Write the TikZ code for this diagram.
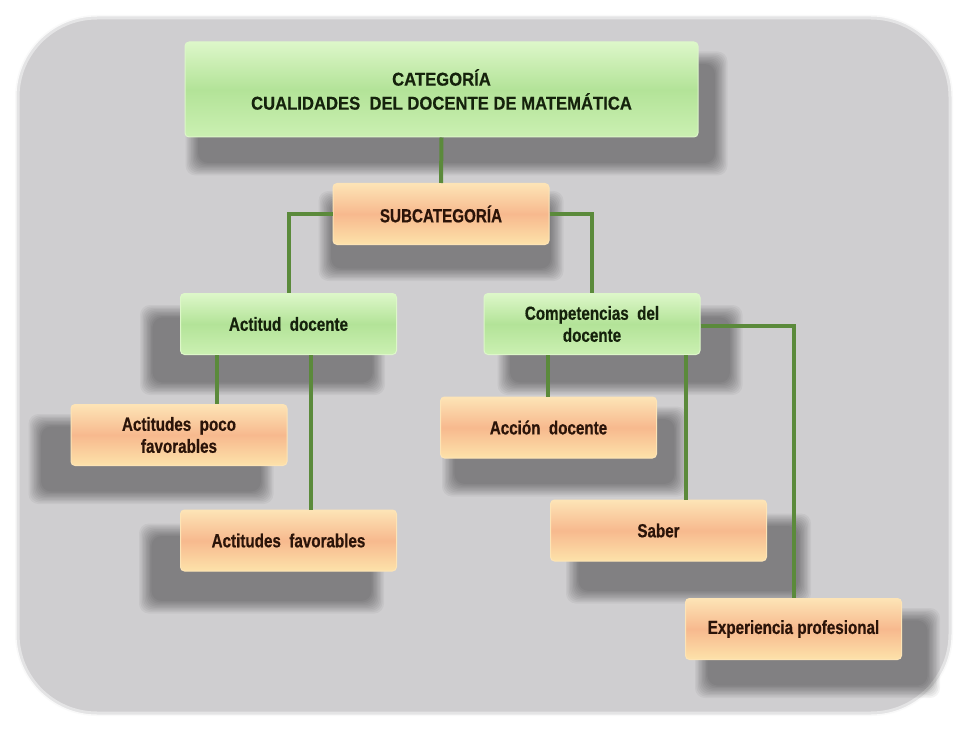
\documentclass[tikz,border=0pt]{standalone}
\usepackage{fontspec}
\setmainfont{Liberation Sans}[FakeStretch=0.80, BoldFeatures={FakeBold=0.5}]
\newfontfamily\titlefont{Liberation Sans}[FakeStretch=0.90, BoldFeatures={FakeBold=0.5}]
\usetikzlibrary{calc}

\pgfdeclarelayer{underlay}
\pgfsetlayers{underlay,main}

\definecolor{panel}{HTML}{CFCED0}
\definecolor{linkgreen}{HTML}{5B8A3B}
\definecolor{gtop}{HTML}{DDF7C9}
\definecolor{gmid}{HTML}{B3E398}
\definecolor{gbot}{HTML}{CBF0B2}
\definecolor{otop}{HTML}{FDE4B6}
\definecolor{omid}{HTML}{F7B98E}
\definecolor{obot}{HTML}{FDE2AA}
\definecolor{inkgreen}{HTML}{15220C}
\definecolor{inkbrown}{HTML}{2B1409}

\tikzset{
  box/.style={rectangle, rounded corners=4pt, inner sep=2pt, align=center,
    minimum width=216pt, minimum height=61pt,
    font=\bfseries\fontsize{19}{22}\selectfont},
  greenbox/.style={box, draw=gtop, line width=1pt, text=inkgreen,
    top color=gtop, bottom color=gbot, middle color=gmid},
  orangebox/.style={box, draw=otop, line width=1pt, text=inkbrown,
    top color=otop, bottom color=obot, middle color=omid},
  link/.style={draw=linkgreen, line width=4pt}
}

% soft drop shadow behind a node: #1 node, #2 x offset, #3 y offset (downwards)
\newcommand\softshadow[3]{%
  \foreach \k in {0,...,9}{%
    \fill[black, opacity=0.045, rounded corners=10pt]
      ($(#1.north west)+(#2-14+1.4*\k, #3-14+1.4*\k)$) rectangle
      ($(#1.south east)+(#2+14-1.4*\k, #3+14-1.4*\k)$);
  }%
}

\begin{document}
\begin{tikzpicture}[x=1pt, y=-1pt]
  \useasboundingbox (0,0) rectangle (958,730);

  % boxes
  \node[greenbox, minimum width=513pt, minimum height=95pt,
        font=\titlefont\bfseries\fontsize{18.5}{24}\selectfont]
        (cat) at (441.5,89.5) {CATEGORÍA\\CUALIDADES\ \ DEL DOCENTE DE MATEMÁTICA};
  \node[orangebox] (sub) at (441,214) {SUBCATEGORÍA};

  \node[greenbox] (act) at (288.5,324) {Actitud\ \ docente};
  \node[greenbox] (comp) at (592,324) {Competencias\ \ del\\docente};

  \node[orangebox] (poco) at (179,435) {Actitudes\ \ poco\\favorables};
  \node[orangebox] (fav) at (288.5,540.5) {Actitudes\ \ favorables};

  \node[orangebox] (acc) at (548.5,427.5) {Acción\ \ docente};
  \node[orangebox] (sab) at (658.5,530.5) {Saber};
  \node[orangebox] (exp) at (793.5,629) {Experiencia profesional};

  \begin{pgfonlayer}{underlay}
    \fill[white] (0,0) rectangle (958,730);
    % grey panel with a soft light rim
    \fill[panel, rounded corners=82pt] (15,15) rectangle (953,716);
    \draw[white, line width=9pt, opacity=0.45, rounded corners=82pt] (15,15) rectangle (953,716);
    \draw[white, line width=3pt, opacity=0.8, rounded corners=82pt] (15,15) rectangle (953,716);
    % drop shadows
    \softshadow{cat}{15}{24}
    \softshadow{sub}{0}{22}
    \softshadow{act}{-26}{26}
    \softshadow{comp}{28}{26}
    \softshadow{poco}{-28}{24}
    \softshadow{fav}{-27}{28}
    \softshadow{acc}{16}{24}
    \softshadow{sab}{30}{28}
    \softshadow{exp}{24}{24}
  \end{pgfonlayer}

  % connectors
  \draw[link] (cat.south) -- (sub.north);
  \draw[link] (sub.west) -| (act.north);
  \draw[link] (sub.east) -| (comp.north);
  \draw[link] ([xshift=-72pt]act.south) -- ([xshift=-72pt]act.south |- poco.north);
  \draw[link] ([xshift=22pt]act.south) -- ([xshift=22pt]act.south |- fav.north);
  \draw[link] ([xshift=-44pt]comp.south) -- ([xshift=-44pt]comp.south |- acc.north);
  \draw[link] ([xshift=94pt]comp.south) -- ([xshift=94pt]comp.south |- sab.north);
  \draw[link] ([yshift=-2pt]comp.east) -| (exp.north);
\end{tikzpicture}
\end{document}
